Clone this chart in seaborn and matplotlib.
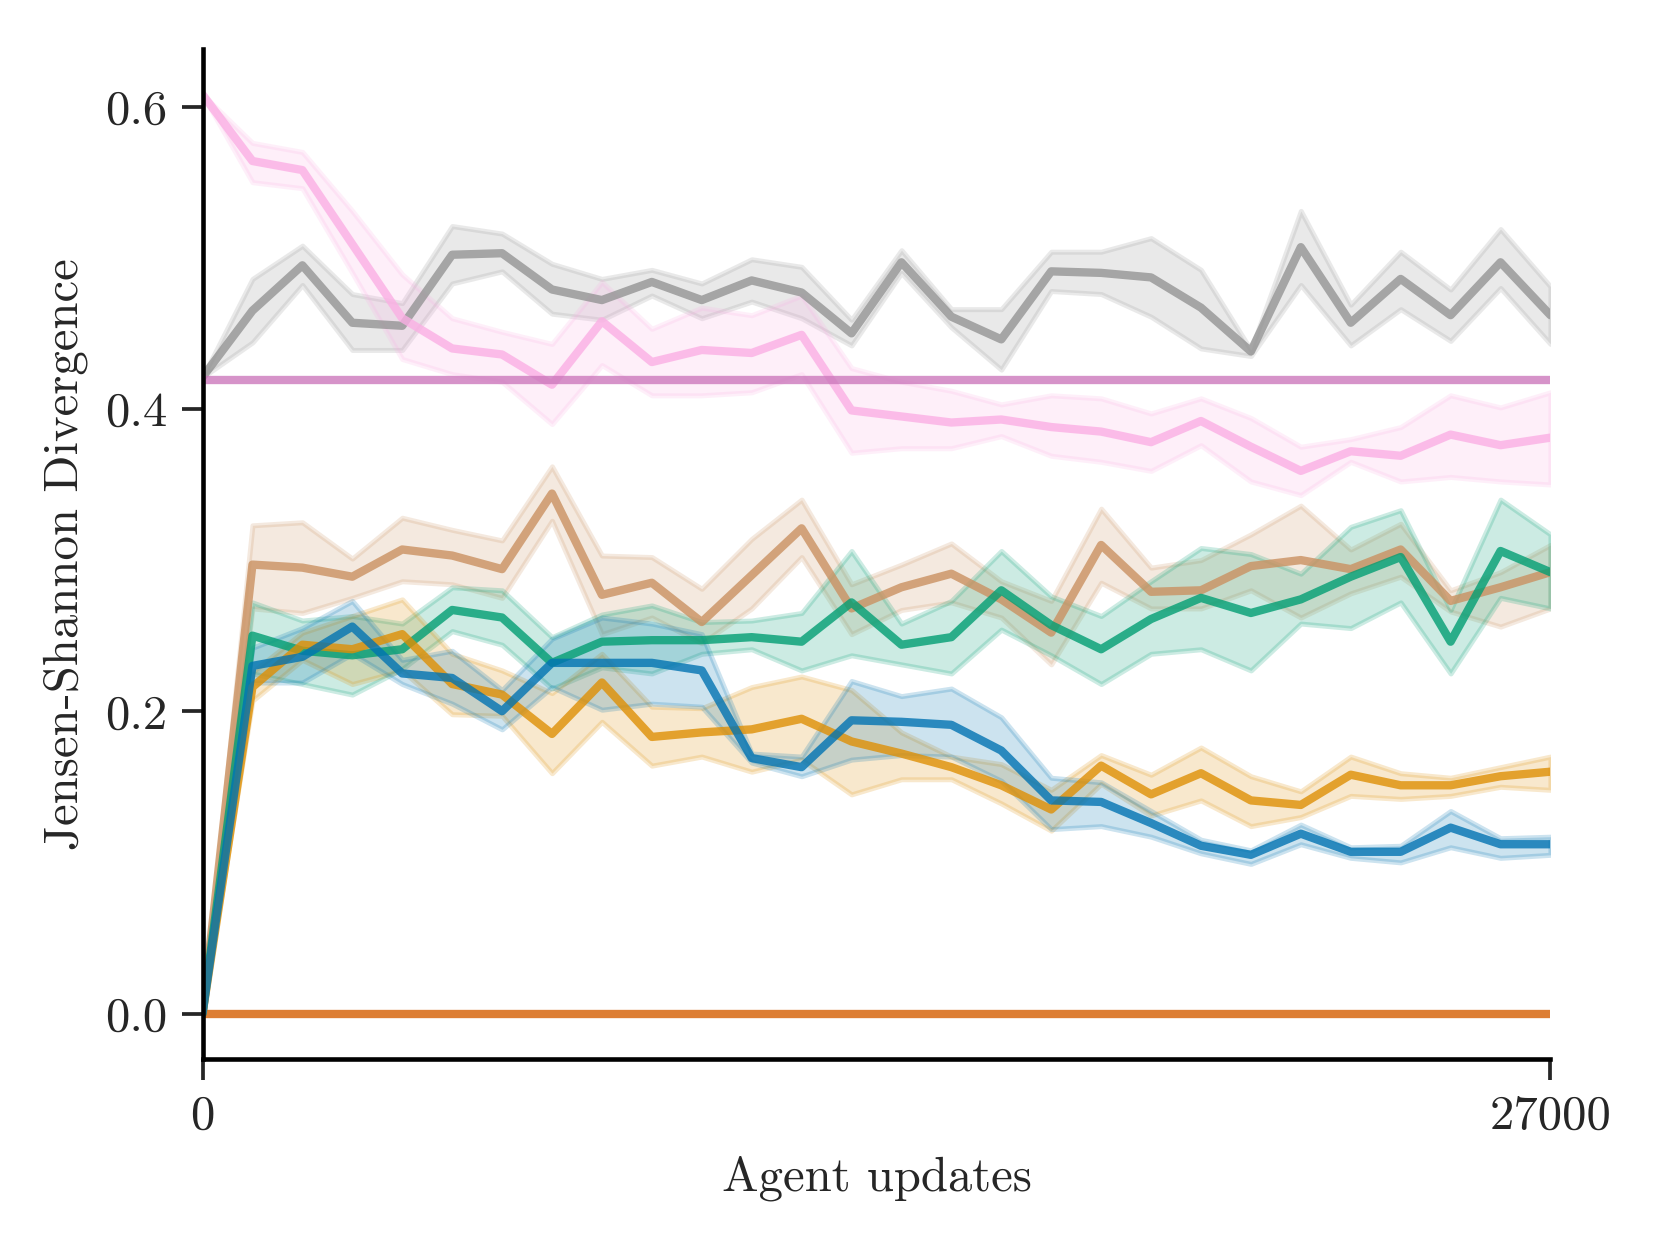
import numpy as np
import matplotlib
matplotlib.use("Agg")
import matplotlib.pyplot as plt
import seaborn as sns

steps = list(range(0, 28000, 1000))

blue_mean = [0, 0.230, 0.236, 0.256, 0.225, 0.222, 0.200, 0.232, 0.232, 0.232, 0.227, 0.169, 0.163, 0.194,
             0.193, 0.191, 0.174, 0.141, 0.140, 0.126, 0.111, 0.105, 0.119, 0.107, 0.107, 0.123, 0.112, 0.112]
blue_lo = [0, 0.219, 0.219, 0.238, 0.218, 0.205, 0.188, 0.216, 0.201, 0.205, 0.203, 0.166, 0.157, 0.168,
           0.171, 0.170, 0.154, 0.122, 0.124, 0.117, 0.106, 0.099, 0.112, 0.103, 0.100, 0.110, 0.103, 0.105]
blue_hi = [0, 0.242, 0.255, 0.273, 0.234, 0.240, 0.214, 0.248, 0.262, 0.258, 0.251, 0.172, 0.170, 0.220,
           0.210, 0.215, 0.196, 0.156, 0.153, 0.134, 0.115, 0.108, 0.125, 0.110, 0.111, 0.134, 0.116, 0.117]

orange_mean = [0, 0.216, 0.244, 0.241, 0.251, 0.218, 0.211, 0.185, 0.219, 0.183, 0.186, 0.188, 0.195, 0.180,
               0.172, 0.163, 0.151, 0.135, 0.164, 0.145, 0.159, 0.141, 0.138, 0.158, 0.151, 0.151, 0.157, 0.160]
orange_lo = [0, 0.207, 0.234, 0.218, 0.227, 0.198, 0.197, 0.159, 0.193, 0.164, 0.170, 0.160, 0.168, 0.145,
             0.155, 0.155, 0.139, 0.121, 0.152, 0.131, 0.141, 0.124, 0.130, 0.144, 0.142, 0.144, 0.150, 0.148]
orange_hi = [0, 0.226, 0.252, 0.263, 0.274, 0.238, 0.227, 0.212, 0.238, 0.203, 0.202, 0.216, 0.223, 0.214,
             0.186, 0.170, 0.165, 0.148, 0.171, 0.158, 0.176, 0.157, 0.147, 0.170, 0.159, 0.156, 0.163, 0.170]

green_mean = [0, 0.250, 0.240, 0.237, 0.241, 0.267, 0.262, 0.232, 0.246, 0.247, 0.247, 0.249, 0.246, 0.272,
              0.244, 0.249, 0.280, 0.257, 0.241, 0.261, 0.275, 0.265, 0.274, 0.289, 0.302, 0.246, 0.306, 0.292]
green_lo = [0, 0.225, 0.218, 0.211, 0.228, 0.253, 0.244, 0.215, 0.229, 0.225, 0.238, 0.241, 0.227, 0.237,
            0.231, 0.225, 0.254, 0.237, 0.218, 0.238, 0.241, 0.227, 0.258, 0.255, 0.272, 0.225, 0.275, 0.268]
green_hi = [0, 0.272, 0.260, 0.263, 0.258, 0.282, 0.280, 0.249, 0.264, 0.270, 0.259, 0.260, 0.265, 0.306,
            0.258, 0.273, 0.306, 0.276, 0.263, 0.286, 0.308, 0.304, 0.291, 0.322, 0.333, 0.267, 0.340, 0.317]

red_mean = [0.0] * 28
purple_mean = [0.419] * 28

brown_mean = [0, 0.297, 0.295, 0.289, 0.307, 0.303, 0.294, 0.344, 0.277, 0.285, 0.259, 0.290, 0.321, 0.268,
              0.282, 0.291, 0.274, 0.252, 0.310, 0.279, 0.280, 0.296, 0.300, 0.294, 0.307, 0.273, 0.282, 0.292]
brown_lo = [0, 0.268, 0.265, 0.275, 0.286, 0.284, 0.275, 0.326, 0.251, 0.262, 0.245, 0.268, 0.302, 0.251,
            0.267, 0.272, 0.262, 0.231, 0.285, 0.268, 0.268, 0.280, 0.262, 0.278, 0.289, 0.266, 0.256, 0.268]
brown_hi = [0, 0.323, 0.325, 0.301, 0.328, 0.320, 0.313, 0.362, 0.303, 0.302, 0.281, 0.314, 0.340, 0.284,
            0.297, 0.311, 0.286, 0.273, 0.334, 0.295, 0.300, 0.317, 0.336, 0.307, 0.324, 0.280, 0.292, 0.310]

pink_mean = [0.608, 0.564, 0.558, 0.509, 0.460, 0.440, 0.436, 0.416, 0.458, 0.431, 0.439, 0.437, 0.449, 0.399,
             0.395, 0.391, 0.393, 0.388, 0.385, 0.378, 0.392, 0.375, 0.359, 0.372, 0.369, 0.383, 0.376, 0.381]
pink_lo = [0.608, 0.550, 0.546, 0.490, 0.433, 0.423, 0.418, 0.390, 0.429, 0.409, 0.409, 0.411, 0.423, 0.371,
           0.374, 0.374, 0.382, 0.369, 0.365, 0.359, 0.376, 0.352, 0.343, 0.365, 0.352, 0.355, 0.352, 0.350]
pink_hi = [0.608, 0.576, 0.570, 0.531, 0.489, 0.460, 0.451, 0.443, 0.484, 0.453, 0.467, 0.462, 0.475, 0.427,
           0.418, 0.412, 0.403, 0.409, 0.407, 0.397, 0.407, 0.394, 0.375, 0.380, 0.388, 0.409, 0.401, 0.411]

grey_mean = [0.421, 0.465, 0.495, 0.457, 0.455, 0.502, 0.503, 0.479, 0.472, 0.484, 0.472, 0.485, 0.477, 0.450,
             0.497, 0.461, 0.446, 0.491, 0.490, 0.487, 0.467, 0.438, 0.507, 0.457, 0.486, 0.462, 0.497, 0.462]
grey_lo = [0.421, 0.444, 0.482, 0.439, 0.439, 0.483, 0.491, 0.463, 0.459, 0.475, 0.460, 0.471, 0.460, 0.442,
           0.490, 0.454, 0.426, 0.478, 0.476, 0.461, 0.440, 0.435, 0.482, 0.442, 0.466, 0.445, 0.480, 0.443]
grey_hi = [0.421, 0.486, 0.508, 0.476, 0.470, 0.521, 0.516, 0.496, 0.486, 0.492, 0.483, 0.499, 0.494, 0.459,
           0.505, 0.466, 0.466, 0.504, 0.504, 0.513, 0.492, 0.439, 0.531, 0.469, 0.504, 0.479, 0.519, 0.481]

x_ticks = [0, 27000]
x_tick_labels = ["0", "27000"]
y_ticks = [0.0, 0.2, 0.4, 0.6]
y_tick_labels = ["0.0", "0.2", "0.4", "0.6"]

sns.set_theme(style="ticks", context="paper")
plt.rcParams["font.family"] = ["cmr10", "DejaVu Serif"]
plt.rcParams["mathtext.fontset"] = "cm"
plt.rcParams["axes.formatter.use_mathtext"] = True

pal = sns.color_palette("colorblind")
series = [
    (blue_mean, blue_lo, blue_hi, pal[0]),
    (orange_mean, orange_lo, orange_hi, pal[1]),
    (green_mean, green_lo, green_hi, pal[2]),
    (red_mean, None, None, pal[3]),
    (purple_mean, None, None, pal[4]),
    (brown_mean, brown_lo, brown_hi, pal[5]),
    (pink_mean, pink_lo, pink_hi, pal[6]),
    (grey_mean, grey_lo, grey_hi, pal[7]),
]

fig, ax = plt.subplots(figsize=(1660 / 300, 1245 / 300), dpi=300)
fig.subplots_adjust(left=0.122, right=0.934, bottom=0.149, top=0.961)

for mean, lo, hi, col in reversed(series):
    if lo is not None:
        ax.fill_between(steps, lo, hi, color=col, alpha=0.2, linewidth=1.2)
    sns.lineplot(x=steps, y=mean, color=col, alpha=0.8, linewidth=2.0, ax=ax)

ax.set_xlim(0, 27000)
ax.set_xticks(x_ticks)
ax.set_xticklabels(x_tick_labels)
ax.set_yticks(y_ticks)
ax.set_yticklabels(y_tick_labels)
ax.set_xlabel("Agent updates", fontsize=11.7, color=".15")
ax.set_ylabel("Jensen-Shannon Divergence", fontsize=11.7, color=".15")
ax.tick_params(axis="both", labelsize=11.7, length=5, width=0.9, colors=".15")
for s in ["left", "bottom"]:
    ax.spines[s].set_color("black")
    ax.spines[s].set_linewidth(1.1)
sns.despine(ax=ax)

fig.savefig("out.png", dpi=300)
